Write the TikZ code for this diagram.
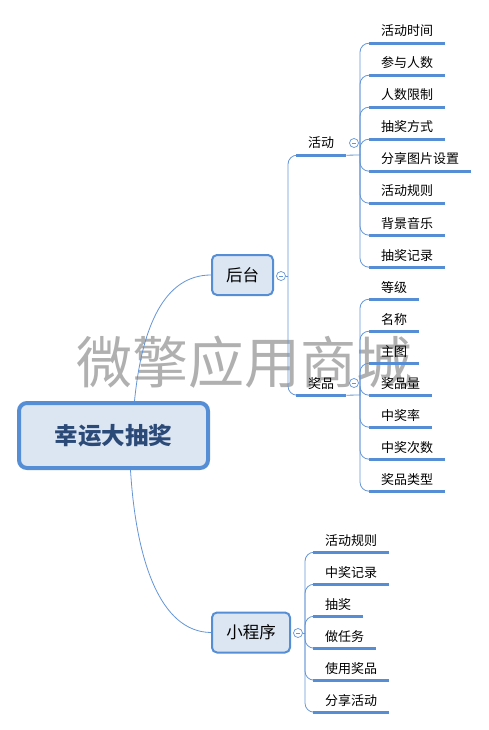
\documentclass[tikz,border=0pt]{standalone}
\usepackage{fontspec}
\setmainfont{Noto Sans CJK SC}
\definecolor{mapblue}{RGB}{85,142,213}
\definecolor{linkblue}{RGB}{100,149,215}
\definecolor{boxfill}{RGB}{220,230,242}
\definecolor{roottext}{RGB}{44,74,120}
\definecolor{wmgray}{RGB}{176,176,176}
\tikzset{
  rootbox/.style={draw=mapblue,fill=boxfill,line width=4pt,rounded corners=8pt,
    minimum width=189pt,minimum height=65pt,text=roottext,font=\fontsize{23.5}{27}\selectfont\bfseries},
  mainbox/.style={draw=mapblue,fill=boxfill,line width=2pt,rounded corners=5pt,
    minimum height=40pt,inner xsep=0pt,font=\fontsize{16.5}{20}\selectfont},
  leaf/.style={anchor=west,inner xsep=12pt,inner ysep=6pt,text height=11pt,text depth=1pt,
    font=\fontsize{13}{15}\selectfont},
  ul/.style={draw=mapblue,line width=3pt},
  conn/.style={draw=linkblue,line width=0.8pt,rounded corners=9pt},
  fold/.style={circle,draw=linkblue,fill=white,line width=0.7pt,minimum size=9pt,inner sep=0pt,
    path picture={\draw[linkblue,line width=0.6pt] ([xshift=-2.2pt]path picture bounding box.center) -- ([xshift=2.2pt]path picture bounding box.center);}}
}
\begin{document}
\begin{tikzpicture}[x=1pt,y=-1pt]
  \useasboundingbox (0,0) rectangle (489,730);
  \node[text=wmgray,font=\fontsize{56}{60}\selectfont] (wm) at (244,362) {微擎应用商城};

  \node[rootbox] (root) at (113.5,435.5) {幸运大抽奖};
  \node[mainbox,minimum width=61pt] (ht) at (242.5,275) {后台};
  \node[mainbox,minimum width=78pt] (xcx) at (251,632.5) {小程序};
  \node[fold] (f1) at (281,276) {};
  \node[fold] (f2) at (298,633) {};

  \node[leaf] (hd) at (296,143) {活动};
  \node[leaf] (jp) at (296,383) {奖品};
  \node[fold] (f3) at (354,143) {};
  \node[fold] (f4) at (354,383) {};

  \coordinate (h1) at (288,276);
  \coordinate (h2) at (305,633);
  \coordinate (h3) at (360,155);
  \coordinate (h4) at (360,395);

  \foreach \t [count=\i] in {活动时间,参与人数,人数限制,抽奖方式,分享图片设置,活动规则,背景音乐,抽奖记录}
    \node[leaf] (a\i) at (369,{31+32*(\i-1)}) {\t};
  \foreach \t [count=\i] in {等级,名称,主图,奖品量,中奖率,中奖次数,奖品类型}
    \node[leaf] (b\i) at (369,{287+32*(\i-1)}) {\t};
  \foreach \t [count=\i] in {活动规则,中奖记录,抽奖,做任务,使用奖品,分享活动}
    \node[leaf] (m\i) at (313,{540+32*(\i-1)}) {\t};

  \begin{scope}[conn]
    \draw ([xshift=21pt]root.north) .. controls (142,325) and (165,275) .. (ht.west);
    \draw ([xshift=17pt]root.south) .. controls (136,560) and (160,632) .. (xcx.west);
    \draw (f1.east) -- (h1);
    \draw (f2.east) -- (h2);
    \draw (h1) |- (hd.south west);
    \draw (h1) |- (jp.south west);
    \draw (hd.south east) -- (h3);
    \draw (jp.south east) -- (h4);
    \foreach \i in {1,...,8} \draw (h3) |- (a\i.south west);
    \foreach \i in {1,...,7} \draw (h4) |- (b\i.south west);
    \foreach \i in {1,...,6} \draw (h2) |- (m\i.south west);
  \end{scope}

  \draw[ul] (hd.south west) -- (hd.south east);
  \draw[ul] (jp.south west) -- (jp.south east);
  \foreach \i in {1,...,8} \draw[ul] (a\i.south west) -- (a\i.south east);
  \foreach \i in {1,...,7} \draw[ul] (b\i.south west) -- (b\i.south east);
  \foreach \i in {1,...,6} \draw[ul] (m\i.south west) -- (m\i.south east);
\end{tikzpicture}
\end{document}
